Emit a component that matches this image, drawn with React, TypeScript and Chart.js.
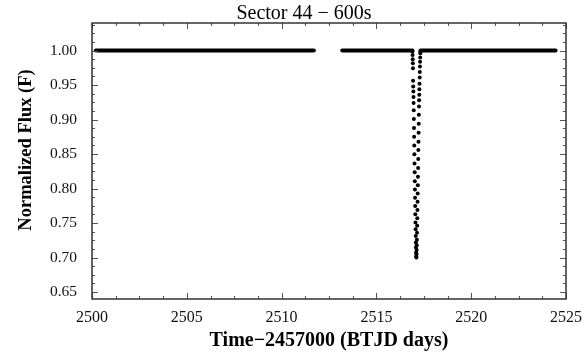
import React, { useEffect, useRef } from "react";
import { Chart, registerables } from "chart.js";

Chart.register(...registerables);

const titleText = "Sector 44 \u2212 600s";
const xTitle = "Time\u22122457000 (BTJD days)";
const yTitle = "Normalized Flux (F)";

const xMin = 2500;
const xMax = 2525;
const yMin = 0.64;
const yMax = 1.04;
const xTickValues = [2500, 2505, 2510, 2515, 2520, 2525];
const xMinorTicks = [
  2501.25, 2502.5, 2503.75, 2506.25, 2507.5, 2508.75, 2511.25, 2512.5, 2513.75,
  2516.25, 2517.5, 2518.75, 2521.25, 2522.5, 2523.75,
];
const yTickValues = [0.65, 0.7, 0.75, 0.8, 0.85, 0.9, 0.95, 1.0];
const yMinorTicks = [
  0.6625, 0.675, 0.6875, 0.7125, 0.725, 0.7375, 0.7625, 0.775, 0.7875, 0.8125, 0.825, 0.8375,
  0.8625, 0.875, 0.8875, 0.9125, 0.925, 0.9375, 0.9625, 0.975, 0.9875, 1.0125, 1.025, 1.0375,
];

// Out-of-eclipse baseline (dense 600 s cadence, drawn as a thick band)
const baselineSegStart = [2500.2, 2513.2, 2517.33];
const baselineSegEnd = [2511.7, 2516.9, 2524.45];
const baselineFlux = 1.0;

// In-eclipse points
const eclipseTimes = [
  2516.900, 2516.907, 2516.914, 2516.921, 2516.928, 2516.935, 2516.942, 2516.949, 2516.956, 2516.962,
  2516.969, 2516.976, 2516.983, 2516.990, 2516.997, 2517.004, 2517.011, 2517.018, 2517.025, 2517.032,
  2517.039, 2517.046, 2517.053, 2517.060, 2517.067, 2517.074, 2517.081, 2517.087, 2517.094, 2517.101,
  2517.108, 2517.115, 2517.122, 2517.129, 2517.136, 2517.143, 2517.150, 2517.157, 2517.164, 2517.171,
  2517.178, 2517.185, 2517.192, 2517.199, 2517.206, 2517.212, 2517.219, 2517.226, 2517.233, 2517.240,
  2517.247, 2517.254, 2517.261, 2517.268, 2517.275, 2517.282, 2517.289, 2517.296, 2517.303, 2517.310,
  2517.317, 2517.324,
];
const eclipseFlux = [
  0.9986, 0.9938, 0.9876, 0.9818, 0.9746, 0.9562, 0.948, 0.9408, 0.9327, 0.924,
  0.9134, 0.9009, 0.888, 0.875, 0.8624, 0.8497, 0.8364, 0.8238, 0.8108, 0.7988,
  0.7869, 0.7747, 0.7627, 0.7508, 0.7411, 0.7314, 0.7219, 0.7147, 0.7074, 0.7017,
  0.700, 0.705, 0.711, 0.718, 0.726, 0.736, 0.746, 0.757, 0.769, 0.781,
  0.793, 0.805, 0.817, 0.830, 0.843, 0.856, 0.868, 0.881, 0.894, 0.907,
  0.919, 0.928, 0.936, 0.944, 0.952, 0.961, 0.969, 0.977, 0.984, 0.990,
  0.996, 0.999,
];

const SERIF = "'Liberation Serif', 'Times New Roman', serif";

const framePlugin = {
  id: "frameTicks",
  afterDraw(chart: any) {
    const { ctx, chartArea } = chart;
    const { left, right, top, bottom } = chartArea;
    const xs = chart.scales.x;
    const ys = chart.scales.y;
    ctx.save();
    ctx.strokeStyle = "#555";
    ctx.lineWidth = 1;
    const drawX = (vals: number[], len: number) => {
      vals.forEach((v) => {
        const p = Math.round(xs.getPixelForValue(v)) + 0.5;
        ctx.beginPath();
        ctx.moveTo(p, bottom);
        ctx.lineTo(p, bottom - len);
        ctx.moveTo(p, top);
        ctx.lineTo(p, top + len);
        ctx.stroke();
      });
    };
    const drawY = (vals: number[], len: number) => {
      vals.forEach((v) => {
        const p = Math.round(ys.getPixelForValue(v)) + 0.5;
        ctx.beginPath();
        ctx.moveTo(left, p);
        ctx.lineTo(left + len, p);
        ctx.moveTo(right, p);
        ctx.lineTo(right - len, p);
        ctx.stroke();
      });
    };
    drawX(xTickValues, 6);
    drawX(xMinorTicks, 3);
    drawY(yTickValues, 6);
    drawY(yMinorTicks, 3);
    ctx.strokeStyle = "#333";
    ctx.lineWidth = 1.5;
    ctx.strokeRect(left, top, right - left, bottom - top);

    // chart title
    ctx.fillStyle = "#000";
    ctx.font = `normal 20px ${SERIF}`;
    ctx.textAlign = "center";
    ctx.textBaseline = "alphabetic";
    ctx.fillText(titleText, 304, 19);

    // y-axis title
    ctx.save();
    ctx.translate(31, 150);
    ctx.rotate(-Math.PI / 2);
    ctx.font = `bold 18.5px ${SERIF}`;
    ctx.textAlign = "center";
    ctx.textBaseline = "alphabetic";
    ctx.fillText(yTitle, 0, 0);
    ctx.restore();

    ctx.restore();
  },
};

export default function App() {
  const canvasRef = useRef<HTMLCanvasElement | null>(null);

  useEffect(() => {
    const canvas = canvasRef.current;
    if (!canvas) return;
    const baselineSets = baselineSegStart.map((s, i) => ({
      type: "line" as const,
      data: [
        { x: s, y: baselineFlux },
        { x: baselineSegEnd[i], y: baselineFlux },
      ],
      borderColor: "#000",
      borderWidth: 4,
      borderCapStyle: "round" as const,
      pointRadius: 0,
      showLine: true,
    }));
    const chart = new Chart(canvas, {
      type: "scatter",
      data: {
        datasets: [
          ...baselineSets,
          {
            type: "scatter" as const,
            data: eclipseTimes.map((t, i) => ({ x: t, y: eclipseFlux[i] })),
            backgroundColor: "#000",
            borderColor: "#000",
            pointRadius: 2,
            borderWidth: 0,
          },
        ] as any,
      },
      options: {
        responsive: false,
        animation: false,
        layout: { padding: { left: 0, right: 20, top: 23, bottom: 0 } },
        plugins: {
          legend: { display: false },
          tooltip: { enabled: false },
          title: { display: false },
        },
        scales: {
          x: {
            type: "linear",
            min: xMin,
            max: xMax,
            afterBuildTicks: (scale: any) => {
              scale.ticks = xTickValues.map((v) => ({ value: v }));
            },
            afterFit: (scale: any) => {
              scale.height = 54;
              scale.paddingLeft = 0;
              scale.paddingRight = 0;
            },
            grid: { display: true, drawOnChartArea: false, drawTicks: false },
            border: { display: false },
            ticks: {
              color: "#111",
              padding: 9,
              maxRotation: 0,
              font: { family: SERIF, size: 16 },
              callback: (v: any) => String(v),
            },
            title: {
              display: true,
              text: xTitle,
              color: "#000",
              font: { family: SERIF, size: 20, weight: "bold" as any, lineHeight: 1.2 },
              padding: { top: 0, bottom: 0 },
            },
          },
          y: {
            type: "linear",
            min: yMin,
            max: yMax,
            afterBuildTicks: (scale: any) => {
              scale.ticks = yTickValues.map((v) => ({ value: v }));
            },
            afterFit: (scale: any) => {
              scale.width = 92;
              scale.paddingTop = 0;
              scale.paddingBottom = 0;
            },
            grid: { display: true, drawOnChartArea: false, drawTicks: false },
            border: { display: false },
            ticks: {
              color: "#111",
              padding: 15,
              font: { family: SERIF, size: 15.5 },
              callback: (v: any) => Number(v).toFixed(2),
            },
            title: { display: false },
          },
        },
      },
      plugins: [framePlugin],
    });
    return () => chart.destroy();
  }, []);

  return (
    <div style={{ position: "absolute", left: 0, top: 0, width: 586, height: 353, background: "#fff" }}>
      <canvas ref={canvasRef} width={586} height={353} style={{ display: "block", width: 586, height: 353 }} />
    </div>
  );
}
